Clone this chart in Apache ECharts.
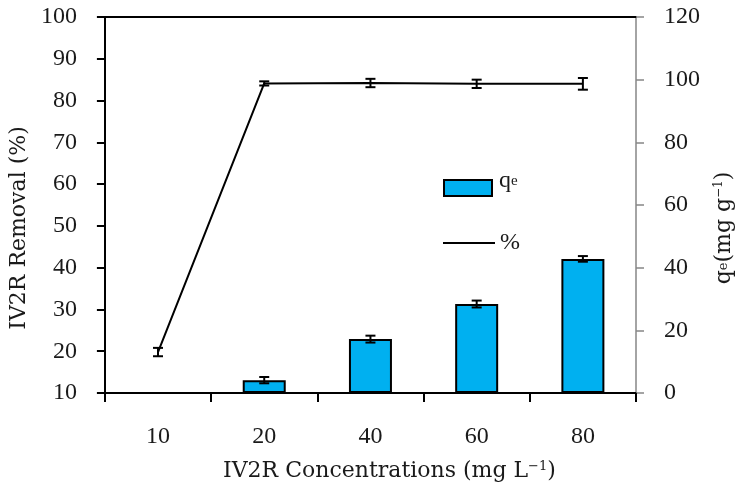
<!DOCTYPE html>
<html><head><meta charset="utf-8">
<script src="https://cdn.jsdelivr.net/npm/echarts@6/dist/echarts.min.js"></script>
<style>html,body{margin:0;padding:0;background:#fff}#c{width:743px;height:500px}</style>
</head><body><div id="c"></div>
<script>
// ---- data ----
const categories = ['10', '20', '40', '60', '80'];
const qeValues = [0, 4.1, 17.2, 28.4, 42.8];
const qeErrors = [0, 1.0, 1.1, 1.1, 0.9];
const removalValues = [19.8, 84.1, 84.2, 84.0, 84.0];
const removalErrors = [1.0, 0.5, 1.0, 1.0, 1.4];
const leftAxisRange = [10, 100, 10];
const rightAxisRange = [0, 120, 20];

const FONT = 'Liberation Serif';
const TFONT = 'DejaVu Serif';
const chart = echarts.init(document.getElementById('c'));

function errorSeries(values, errors, yIdx) {
  return {
    type: 'custom',
    yAxisIndex: yIdx,
    z: 10,
    silent: true,
    encode: { x: 0, y: [1, 2] },
    data: values.map((v, i) => [i, v - errors[i], v + errors[i]]),
    renderItem(params, api) {
      const lo = api.value(1), hi = api.value(2);
      if (hi - lo <= 0) return null;
      const x = api.value(0);
      const p1 = api.coord([x, lo]);
      const p2 = api.coord([x, hi]);
      const w = 5;
      const style = { stroke: '#000', lineWidth: 2, fill: null };
      return {
        type: 'group',
        children: [
          { type: 'line', shape: { x1: p1[0], y1: p1[1], x2: p2[0], y2: p2[1] }, style },
          { type: 'line', shape: { x1: p1[0] - w, y1: p1[1], x2: p1[0] + w, y2: p1[1] }, style },
          { type: 'line', shape: { x1: p2[0] - w, y1: p2[1], x2: p2[0] + w, y2: p2[1] }, style }
        ]
      };
    }
  };
}

const labelStyle = { fontFamily: FONT, fontSize: 24, color: '#1a1a1a' };

chart.setOption({
  backgroundColor: '#fff',
  animation: false,
  textStyle: { fontFamily: FONT },
  grid: { left: 100, right: 103, top: 17, bottom: 107, containLabel: false },
  legend: [
    {
      left: 438, top: 164, itemWidth: 48, itemHeight: 16, itemGap: 2,
      data: [{ name: 'qe', icon: 'rect' }],
      formatter: () => '{q|q}{e|e}',
      textStyle: {
        fontFamily: FONT, color: '#1a1a1a', padding: [0, 0, 14, 2],
        rich: {
          q: { fontFamily: FONT, fontSize: 24, color: '#1a1a1a' },
          e: { fontFamily: FONT, fontSize: 15, color: '#1a1a1a', verticalAlign: 'middle' }
        }
      }
    },
    {
      left: 438, top: 226, itemWidth: 52, itemHeight: 2,
      data: [{ name: '%', icon: 'rect' }],
      textStyle: { fontFamily: FONT, fontSize: 24, color: '#1a1a1a', padding: [6, 0, 0, 0] }
    }
  ],
  xAxis: [
    {
      type: 'category', data: categories, position: 'bottom', boundaryGap: true,
      axisLine: { show: true, lineStyle: { color: '#000', width: 2 } },
      axisTick: { show: true, length: 9, lineStyle: { color: '#000', width: 2 } },
      axisLabel: Object.assign({ margin: 32 }, labelStyle),
      splitLine: { show: false },
      name: 'IV2R Concentrations (mg L{sup|−1})',
      nameLocation: 'middle', nameGap: 67,
      nameTextStyle: {
        fontFamily: TFONT, fontSize: 22, color: '#1a1a1a', padding: [0, 0, 0, 38],
        rich: { sup: { fontFamily: TFONT, fontSize: 13, color: '#1a1a1a', verticalAlign: 'top', padding: [0, 0, 10, 0] } }
      }
    },
    {
      type: 'category', data: categories, position: 'top', boundaryGap: true,
      axisLine: { show: true, lineStyle: { color: '#000', width: 2 } },
      axisTick: { show: false }, axisLabel: { show: false }, splitLine: { show: false }
    }
  ],
  yAxis: [
    {
      type: 'value', position: 'left',
      min: leftAxisRange[0], max: leftAxisRange[1], interval: leftAxisRange[2],
      axisLine: { show: true, lineStyle: { color: '#000', width: 2 } },
      axisTick: { show: true, length: 8, lineStyle: { color: '#000', width: 2 } },
      axisLabel: Object.assign({ margin: 28 }, labelStyle),
      splitLine: { show: false },
      name: 'IV2R Removal (%)', nameLocation: 'middle', nameRotate: 90, nameGap: 69,
      nameTextStyle: { fontFamily: TFONT, fontSize: 22, color: '#1a1a1a', padding: [0, 46, 0, 0] }
    },
    {
      type: 'value', position: 'right',
      min: rightAxisRange[0], max: rightAxisRange[1], interval: rightAxisRange[2],
      axisLine: { show: true, lineStyle: { color: '#868686', width: 1.5 } },
      axisTick: { show: true, length: 8, lineStyle: { color: '#868686', width: 1.5 } },
      axisLabel: Object.assign({ margin: 28 }, labelStyle),
      splitLine: { show: false },
      name: '{q|q}{e|e}{t|(mg g}{sup|−1}{t|)}', nameLocation: 'middle', nameRotate: 90, nameGap: 77,
      nameTextStyle: {
        fontFamily: TFONT, fontSize: 22, color: '#1a1a1a', padding: [0, 46, 0, 0],
        rich: {
          q: { fontFamily: TFONT, fontSize: 22, color: '#1a1a1a' },
          e: { fontFamily: TFONT, fontSize: 13, color: '#1a1a1a', verticalAlign: 'middle' },
          t: { fontFamily: TFONT, fontSize: 22, color: '#1a1a1a' },
          sup: { fontFamily: TFONT, fontSize: 12, color: '#1a1a1a', verticalAlign: 'top' }
        }
      }
    }
  ],
  series: [
    {
      name: 'qe', type: 'bar', xAxisIndex: 0, yAxisIndex: 1, barWidth: 43,
      data: qeValues,
      itemStyle: { color: '#00B0F0', borderColor: '#000', borderWidth: 2 },
      z: 2
    },
    errorSeries(qeValues, qeErrors, 1),
    {
      name: '%', type: 'line', xAxisIndex: 0, yAxisIndex: 0, symbol: 'none',
      data: removalValues,
      lineStyle: { color: '#000', width: 2 }, itemStyle: { color: '#000' },
      z: 5
    },
    errorSeries(removalValues, removalErrors, 0)
  ]
});
</script>
</body></html>
